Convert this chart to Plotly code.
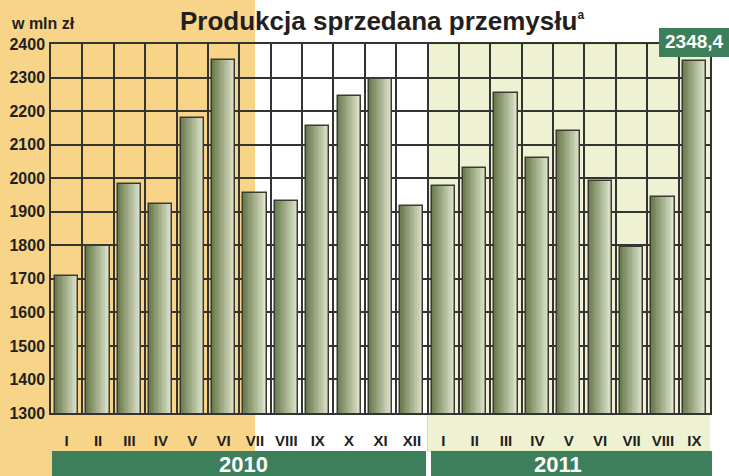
import plotly.graph_objects as go

# ---------------- data ----------------
months = ["I", "II", "III", "IV", "V", "VI", "VII", "VIII", "IX", "X", "XI", "XII",
          "I", "II", "III", "IV", "V", "VI", "VII", "VIII", "IX"]
values = [1708, 1798, 1983, 1923, 2179, 2352, 1956, 1932, 2156, 2245, 2296, 1917,
          1977, 2030, 2254, 2060, 2141, 1992, 1795, 1944, 2348.4]
years = ["2010", "2011"]
y_ticks = [1300, 1400, 1500, 1600, 1700, 1800, 1900, 2000, 2100, 2200, 2300, 2400]
last_label = "2348,4"
title = "Produkcja sprzedana przemysłu<sup><span style='font-size:12px'>a</span></sup>"
unit = "w mln zł"

# ---------------- geometry helpers (pixel -> paper) ----------------
L, R, T, B = 51, 19, 44, 63
WIDTH, HEIGHT = 729, 476
PW = WIDTH - L - R
PH = HEIGHT - T - B


def px(p):
    return (p - L) / PW


def py(q):
    return (HEIGHT - B - q) / PH


ORANGE = "#f8d488"
LIGHTGREEN = "#eef2d3"
DARKGREEN = "#3d7e5b"
GRID = "#333333"

x = list(range(len(values)))
W = 0.74
N = 14
dark = (108, 126, 80)
light = (224, 230, 206)

fig = go.Figure()
for i in range(N):
    t = i / (N - 1)
    c = tuple(round(dark[k] + (light[k] - dark[k]) * t) for k in range(3))
    fig.add_bar(
        x=x, y=values,
        offset=-W / 2 + i * W / N, width=W - i * W / N,
        marker=dict(color="rgb(%d,%d,%d)" % c, line=dict(width=0)),
        hoverinfo="skip", showlegend=False,
    )
fig.add_bar(
    x=x, y=values, offset=-W / 2, width=W,
    marker=dict(color="rgba(0,0,0,0)", line=dict(color="#3a3a32", width=1.5)),
    showlegend=False,
)

shapes = [
    dict(type="rect", xref="paper", yref="paper", x0=px(-2), x1=px(255),
         y0=py(480), y1=py(-2), fillcolor=ORANGE, line=dict(width=0), layer="below"),
    dict(type="rect", xref="x", yref="paper", x0=11.5, x1=20.56,
         y0=py(451), y1=1, fillcolor=LIGHTGREEN,
         line=dict(color="#d3e39a", width=1), layer="below"),
    dict(type="rect", xref="paper", yref="paper", x0=px(52), x1=px(426),
         y0=py(480), y1=py(451), fillcolor=DARKGREEN, line=dict(width=0), layer="below"),
    dict(type="rect", xref="paper", yref="paper", x0=px(431), x1=px(712),
         y0=py(480), y1=py(451), fillcolor=DARKGREEN, line=dict(width=0), layer="below"),
    dict(type="rect", xref="paper", yref="paper", x0=px(659), x1=px(731),
         y0=py(57), y1=py(28), fillcolor=DARKGREEN, line=dict(width=0), layer="above"),
]

FONT = "Liberation Sans, Arial"
annotations = [
    dict(text="<b>" + title + "</b>", xref="paper", yref="paper", x=px(382), y=py(21),
         xanchor="center", yanchor="middle", showarrow=False,
         font=dict(family=FONT, size=26, color="#231f20")),
    dict(text="<b>" + unit + "</b>", xref="paper", yref="paper", x=px(9), y=py(24),
         xanchor="left", yanchor="middle", showarrow=False,
         font=dict(family=FONT, size=16, color="#231f20")),
    dict(text="<b>" + years[0] + "</b>", xref="paper", yref="paper", x=px(243), y=py(464),
         xanchor="center", yanchor="middle", showarrow=False,
         font=dict(family=FONT, size=22, color="white")),
    dict(text="<b>" + years[1] + "</b>", xref="paper", yref="paper", x=px(558), y=py(464),
         xanchor="center", yanchor="middle", showarrow=False,
         font=dict(family=FONT, size=22, color="white")),
    dict(text="<b>" + last_label + "</b>", xref="paper", yref="paper", x=px(694), y=py(42),
         xanchor="center", yanchor="middle", showarrow=False,
         font=dict(family=FONT, size=19, color="white")),
]

fig.update_layout(
    width=WIDTH, height=HEIGHT,
    margin=dict(l=L, r=R, t=T, b=B, autoexpand=False),
    paper_bgcolor="white", plot_bgcolor="rgba(0,0,0,0)",
    barmode="overlay", bargap=0,
    shapes=shapes, annotations=annotations,
    showlegend=False,
)
fig.update_xaxes(
    range=[-0.5, 20.5], tickmode="array", tickvals=x, ticktext=["<b>%s</b>" % m for m in months],
    showgrid=False, ticks="", ticklabelstandoff=13, automargin=False,
    tickfont=dict(family="Liberation Sans Narrow, Liberation Sans, Arial", size=15, color="#231f20"),
    showline=True, linecolor=GRID, linewidth=1.5, mirror=True,
    minor=dict(tickmode="array", tickvals=[i + 0.5 for i in range(-1, 21)],
               showgrid=True, gridcolor=GRID, gridwidth=1.5, ticks=""),
    zeroline=False,
)
fig.update_yaxes(
    range=[1300, 2400], tickmode="array", tickvals=y_ticks,
    ticktext=["<b>%d</b>" % v for v in y_ticks],
    showgrid=True, gridcolor=GRID, gridwidth=1.5, ticks="", ticklabelstandoff=1, automargin=False,
    tickfont=dict(family=FONT, size=16, color="#231f20"),
    showline=True, linecolor=GRID, linewidth=1.5, mirror=True, zeroline=False,
)

fig.write_html("out.html", config={"displayModeBar": False},
               post_script="document.body.style.margin='0';document.body.style.overflow='hidden';")
